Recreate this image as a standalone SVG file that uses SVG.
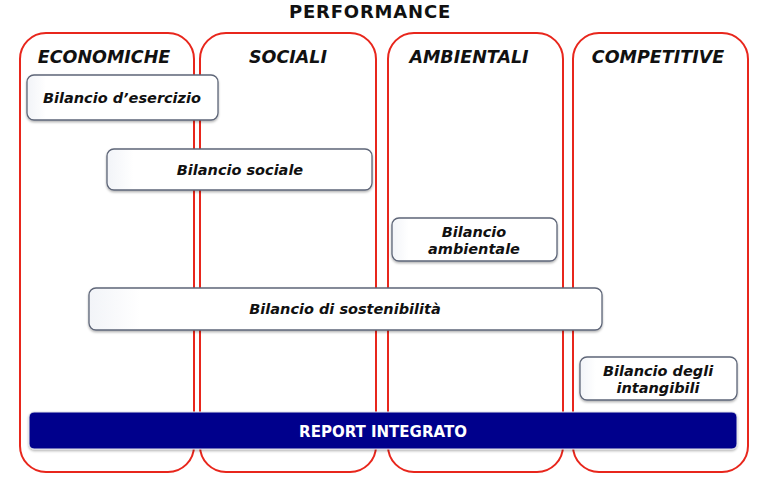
<svg xmlns="http://www.w3.org/2000/svg" width="766" height="491" viewBox="0 0 766 491">
<style>
.col{fill:none;stroke:#e8261c;stroke-width:2}
.ct{font-family:"DejaVu Sans",Verdana,sans-serif;font-weight:bold;font-style:italic;font-size:17.5px;fill:#111;text-anchor:middle}
.box{fill:url(#g);stroke:#5e6678;stroke-width:1.3;filter:url(#sh)}
.bt{font-family:"DejaVu Sans",Verdana,sans-serif;font-weight:bold;font-style:italic;font-size:14.5px;fill:#111;text-anchor:middle}
</style>
<defs>
<linearGradient id="g" x1="0" y1="0" x2="1" y2="0">
<stop offset="0" stop-color="#f2f4f8"/><stop offset="0.1" stop-color="#ffffff"/><stop offset="1" stop-color="#ffffff"/>
</linearGradient>
<filter id="sh" x="-5%" y="-20%" width="110%" height="150%">
<feDropShadow dx="0" dy="1.5" stdDeviation="1" flood-color="#000" flood-opacity="0.3"/>
</filter>
</defs>
<rect width="766" height="491" fill="#fff"/>
<text x="370" y="18" font-family="DejaVu Sans,Verdana,sans-serif" font-weight="bold" font-size="18" letter-spacing="0.8" fill="#111" text-anchor="middle">PERFORMANCE</text>
<g id="col-economiche"><rect class="col" x="20" y="33" width="174" height="439" rx="26"/><text class="ct" x="104" y="63">ECONOMICHE</text></g>
<g id="col-sociali"><rect class="col" x="200" y="33" width="176" height="439" rx="26"/><text class="ct" x="288" y="63">SOCIALI</text></g>
<g id="col-ambientali"><rect class="col" x="388" y="33" width="175" height="439" rx="26"/><text class="ct" x="469" y="63">AMBIENTALI</text></g>
<g id="col-competitive"><rect class="col" x="573" y="33" width="175" height="439" rx="26"/><text class="ct" x="658" y="63">COMPETITIVE</text></g>
<g id="n-esercizio"><rect class="box" x="27" y="75" width="191" height="45" rx="7"/><text class="bt" x="122" y="103">Bilancio d’esercizio</text></g>
<g id="n-sociale"><rect class="box" x="107" y="149" width="265" height="41" rx="7"/><text class="bt" x="240" y="175">Bilancio sociale</text></g>
<g id="n-ambientale"><rect class="box" x="392" y="218" width="165" height="43" rx="7"/><text class="bt" x="474" y="237">Bilancio</text><text class="bt" x="474" y="254">ambientale</text></g>
<g id="n-sostenibilita"><rect class="box" x="89" y="288" width="513" height="42" rx="7"/><text class="bt" x="345" y="314">Bilancio di sostenibilità</text></g>
<g id="n-intangibili"><rect class="box" x="580" y="357" width="157" height="43" rx="7"/><text class="bt" x="658" y="376">Bilancio degli</text><text class="bt" x="658" y="393">intangibili</text></g>
<g id="n-report"><rect x="29" y="412" width="708" height="37" rx="5" fill="#00008c" stroke="#dfe2ea" stroke-width="1" filter="url(#sh)"/><text x="383" y="437" font-family="DejaVu Sans,Verdana,sans-serif" font-weight="bold" font-size="15" fill="#fff" text-anchor="middle">REPORT INTEGRATO</text></g>
<g id="connectors"></g>
</svg>
